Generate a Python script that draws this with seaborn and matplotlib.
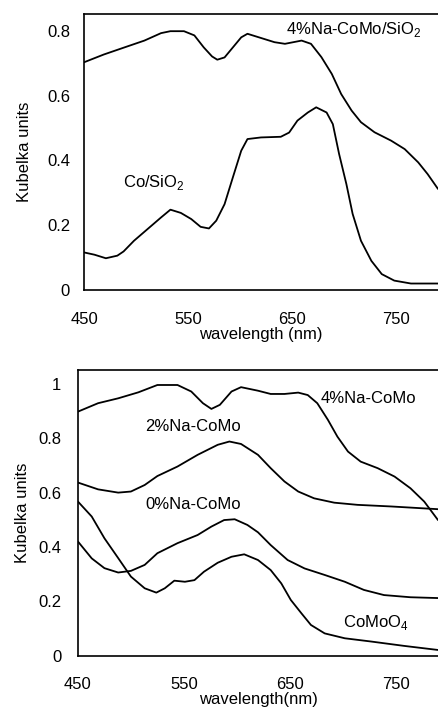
import numpy as np
import pandas as pd
import matplotlib
matplotlib.use("Agg")
import matplotlib.pyplot as plt
import seaborn as sns

# ---- Top panel data (wavelength nm, Kubelka units) ----
top_na_x = [450, 469, 488, 508, 524, 533, 546, 556, 565, 573, 578, 585, 593, 601, 607, 620,
            633, 643, 659, 668, 678, 688, 697, 707, 716, 729, 745, 758, 771, 780, 790]
top_na_y = [0.703, 0.727, 0.748, 0.770, 0.793, 0.799, 0.799, 0.786, 0.749, 0.721, 0.711, 0.718,
            0.749, 0.780, 0.791, 0.778, 0.765, 0.760, 0.770, 0.760, 0.719, 0.667, 0.605, 0.554,
            0.518, 0.487, 0.461, 0.435, 0.394, 0.358, 0.312]
top_co_x = [450, 460, 471, 482, 488, 498, 511, 524, 533, 543, 553, 562, 570, 577, 585, 593, 601,
            607, 620, 639, 647, 655, 665, 673, 683, 689, 695, 702, 708, 716, 726, 736, 748, 764, 790]
top_co_y = [0.116, 0.109, 0.098, 0.106, 0.119, 0.152, 0.188, 0.224, 0.248, 0.238, 0.219, 0.195,
            0.190, 0.214, 0.265, 0.348, 0.430, 0.466, 0.471, 0.473, 0.486, 0.523, 0.548, 0.564,
            0.548, 0.512, 0.420, 0.327, 0.235, 0.152, 0.090, 0.049, 0.029, 0.020, 0.020]

# ---- Bottom panel data ----
b4_x = [450, 469, 488, 507, 525, 544, 557, 568, 576, 584, 595, 604, 620, 632, 645, 658, 667, 676,
        686, 695, 705, 717, 733, 749, 764, 777, 790]
b4_y = [0.898, 0.929, 0.947, 0.969, 0.996, 0.996, 0.972, 0.929, 0.908, 0.923, 0.972, 0.988, 0.975,
        0.963, 0.963, 0.968, 0.959, 0.929, 0.868, 0.806, 0.751, 0.714, 0.690, 0.659, 0.616, 0.567,
        0.499]
b2_x = [450, 469, 488, 500, 513, 525, 544, 563, 582, 593, 604, 620, 632, 645, 658, 673, 692, 714,
        746, 790]
b2_y = [0.637, 0.612, 0.600, 0.604, 0.628, 0.661, 0.696, 0.739, 0.776, 0.788, 0.779, 0.739, 0.690,
        0.641, 0.604, 0.579, 0.563, 0.555, 0.549, 0.539]
b0_x = [450, 463, 475, 488, 500, 513, 525, 544, 563, 576, 588, 598, 610, 620, 632, 648, 664, 683,
        702, 720, 739, 764, 790]
b0_y = [0.420, 0.358, 0.322, 0.306, 0.312, 0.334, 0.377, 0.414, 0.444, 0.475, 0.499, 0.502, 0.481,
        0.454, 0.407, 0.352, 0.321, 0.297, 0.272, 0.242, 0.223, 0.215, 0.212]
bc_x = [450, 463, 475, 488, 500, 513, 524, 532, 541, 551, 560, 569, 582, 595, 607, 620, 632, 642,
        651, 661, 670, 683, 702, 727, 758, 790]
bc_y = [0.567, 0.512, 0.432, 0.359, 0.291, 0.248, 0.232, 0.248, 0.276, 0.272, 0.278, 0.309, 0.342,
        0.364, 0.373, 0.352, 0.315, 0.266, 0.205, 0.156, 0.113, 0.082, 0.064, 0.052, 0.036, 0.021]

x_ticks = [450, 550, 650, 750]
top_yticks = [0, 0.2, 0.4, 0.6, 0.8]
top_ylabels = ["0", "0.2", "0.4", "0.6", "0.8"]
bot_yticks = [0, 0.2, 0.4, 0.6, 0.8, 1.0]
bot_ylabels = ["0", "0.2", "0.4", "0.6", "0.8", "1"]


def make_df(series):
    frames = []
    for name, xs, ys in series:
        frames.append(pd.DataFrame({"wavelength": xs, "ku": ys, "sample": name}))
    return pd.concat(frames, ignore_index=True)


top_df = make_df([("4%Na-CoMo/SiO2", top_na_x, top_na_y), ("Co/SiO2", top_co_x, top_co_y)])
bot_df = make_df([("4%Na-CoMo", b4_x, b4_y), ("2%Na-CoMo", b2_x, b2_y),
                  ("0%Na-CoMo", b0_x, b0_y), ("CoMoO4", bc_x, bc_y)])

sns.set_style("white")
plt.rcParams["font.family"] = ["Liberation Sans", "DejaVu Sans"]
plt.rcParams["mathtext.fontset"] = "custom"
plt.rcParams["mathtext.rm"] = "Liberation Sans"
plt.rcParams["text.color"] = "black"
plt.rcParams["axes.labelcolor"] = "black"
plt.rcParams["xtick.color"] = "black"
plt.rcParams["ytick.color"] = "black"

fig = plt.figure(figsize=(4.38, 7.08), dpi=100)
ax1 = fig.add_axes([0.1918, 0.5904, 0.8082, 0.3898])
ax2 = fig.add_axes([0.178, 0.0739, 0.822, 0.4042])

for ax, df in [(ax1, top_df), (ax2, bot_df)]:
    sns.lineplot(data=df, x="wavelength", y="ku", units="sample", estimator=None,
                 color="black", linewidth=1.3, legend=False, sort=False, ax=ax)
    for ln in ax.get_lines():
        ln.set_solid_joinstyle("round")
    ax.set_xlim(450, 790)
    ax.set_xticks(x_ticks)
    ax.set_xticklabels([str(t) for t in x_ticks])
    for s in ["left", "top", "bottom"]:
        ax.spines[s].set_visible(True)
        ax.spines[s].set_color("black")
        ax.spines[s].set_linewidth(1.2)
    ax.spines["right"].set_visible(False)
    ax.tick_params(axis="both", labelsize=12, colors="black", length=2, direction="in")

ax1.set_ylim(0, 0.852)
ax1.set_yticks(top_yticks)
ax1.set_yticklabels(top_ylabels)
ax1.tick_params(axis="x", pad=16)
ax1.tick_params(axis="y", pad=10)
ax1.set_xlabel("wavelength (nm)", fontsize=12, labelpad=0)
ax1.set_ylabel("Kubelka units", fontsize=12, labelpad=11)

ax2.set_ylim(0, 1.053)
ax2.set_yticks(bot_yticks)
ax2.set_yticklabels(bot_ylabels)
ax2.tick_params(axis="x", pad=15)
ax2.tick_params(axis="y", pad=12)
ax2.set_xlabel("wavelength(nm)", fontsize=12, labelpad=0)
ax2.set_ylabel("Kubelka units", fontsize=12, labelpad=6)

ax1.text(0.57, 0.945, r"4%Na-CoMo/SiO$_2$", transform=ax1.transAxes, fontsize=12, va="center", ha="left")
ax1.text(0.11, 0.39, r"Co/SiO$_2$", transform=ax1.transAxes, fontsize=12, va="center", ha="left")
ax2.text(0.675, 0.90, "4%Na-CoMo", transform=ax2.transAxes, fontsize=12, va="center", ha="left")
ax2.text(0.187, 0.80, "2%Na-CoMo", transform=ax2.transAxes, fontsize=12, va="center", ha="left")
ax2.text(0.187, 0.53, "0%Na-CoMo", transform=ax2.transAxes, fontsize=12, va="center", ha="left")
ax2.text(0.735, 0.115, r"CoMoO$_4$", transform=ax2.transAxes, fontsize=12, va="center", ha="left")

fig.savefig("out.png", dpi=100)
